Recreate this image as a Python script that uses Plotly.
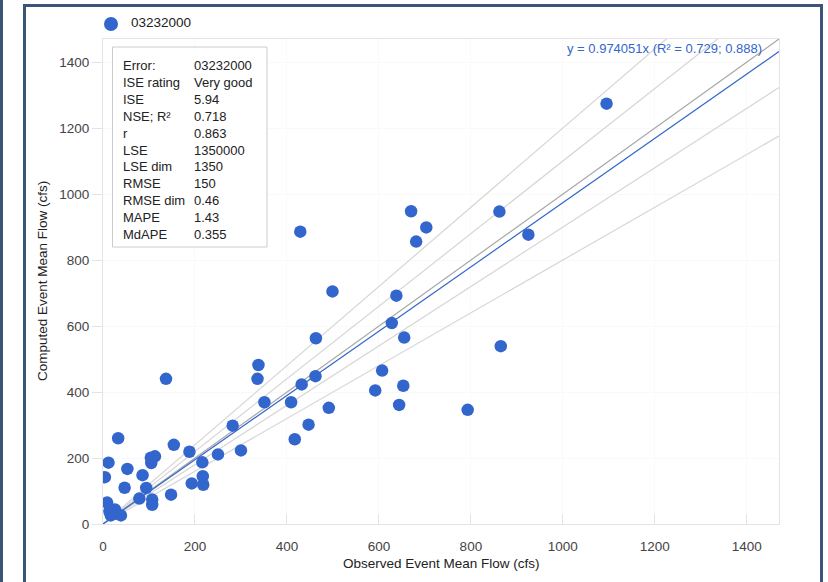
import plotly.graph_objects as go

# ---- data ----
series_name = "03232000"
observed = [1095, 862, 925, 670, 703, 681, 429, 499, 638, 628, 655, 463, 338, 336, 137,
            432, 462, 607, 592, 653, 644, 351, 409, 491, 447, 417, 793, 865, 282, 33,
            154, 188, 250, 300, 12, 104, 113, 105, 216, 53, 86, 4, 217, 218, 193,
            47, 94, 148, 79, 107, 107, 9, 14, 26, 30, 39, 17]
computed = [1274, 947, 877, 948, 899, 856, 886, 705, 692, 609, 565, 563, 482, 440, 440,
            423, 448, 465, 405, 419, 361, 369, 369, 352, 301, 257, 346, 539, 298, 260,
            240, 219, 211, 223, 186, 201, 205, 185, 187, 167, 148, 142, 145, 119, 123,
            110, 109, 89, 77, 74, 58, 65, 38, 44, 31, 26, 26]
trend_slope = 0.974051
trend_label = "y = 0.974051x (R² = 0.729; 0.888)"
guide_slopes = [0.8, 0.9, 1.1, 1.2]
identity_slope = 1.0
axis_max = 1470
tick_vals = [0, 200, 400, 600, 800, 1000, 1200, 1400]

stat_labels = ["Error:", "ISE rating", "ISE", "NSE; R²", "r", "LSE", "LSE dim",
               "RMSE", "RMSE dim", "MAPE", "MdAPE"]
stat_values = ["03232000", "Very good", "5.94", "0.718", "0.863", "1350000", "1350",
               "150", "0.46", "1.43", "0.355"]

# ---- layout geometry (pixels) ----
W, H = 828, 582
L, R, T, B = 103, 49, 39, 58
PW, PH = W - L - R, H - T - B


def px(xp):
    return (xp - L) / PW


def py(yp):
    return (H - B - yp) / PH


FONT = "Arial, 'Liberation Sans', sans-serif"
BLUE = "#3366CC"

fig = go.Figure()

line_x = [0, axis_max]
for s in guide_slopes:
    fig.add_trace(go.Scatter(x=line_x, y=[v * s for v in line_x], mode="lines",
                             line=dict(color="#d6d6d6", width=1.2),
                             hoverinfo="skip", showlegend=False))
fig.add_trace(go.Scatter(x=line_x, y=[v * identity_slope for v in line_x], mode="lines",
                         line=dict(color="#a8a8a8", width=1.2),
                         hoverinfo="skip", showlegend=False))
fig.add_trace(go.Scatter(x=line_x, y=[v * trend_slope for v in line_x], mode="lines",
                         line=dict(color=BLUE, width=1.2),
                         hoverinfo="skip", showlegend=False))
fig.add_trace(go.Scatter(x=observed, y=computed, mode="markers", name=series_name,
                         marker=dict(color=BLUE, size=12.5, line=dict(width=0)),
                         showlegend=False))

axis_common = dict(range=[0, axis_max], tickvals=tick_vals, showgrid=True,
                   gridcolor="#f9f9f9", zeroline=False, showline=True,
                   linecolor="#e4e4e4", linewidth=1, mirror=True,
                   tickfont=dict(family=FONT, size=13.5, color="#444444"),
                   fixedrange=True)

fig.update_layout(
    width=W, height=H,
    margin=dict(l=L, r=R, t=T, b=B, pad=0),
    paper_bgcolor="white", plot_bgcolor="white",
    font=dict(family=FONT, color="#222222"),
    showlegend=False,
    xaxis=dict(**axis_common, ticks="inside", ticklen=10, tickcolor="#e4e4e4",
               ticklabelstandoff=10),
    yaxis=dict(**axis_common, ticks="outside", ticklen=10, tickcolor="#e4e4e4"),
)

shapes = []
# outer frame lines
frame = "#3b5579"
shapes.append(dict(type="line", xref="paper", yref="paper", x0=px(1.5), x1=px(1.5),
                   y0=py(0), y1=py(H), line=dict(color=frame, width=3)))
shapes.append(dict(type="line", xref="paper", yref="paper", x0=px(24.5), x1=px(24.5),
                   y0=py(5), y1=py(H), line=dict(color=frame, width=3)))
shapes.append(dict(type="line", xref="paper", yref="paper", x0=px(23), x1=px(823),
                   y0=py(5.5), y1=py(5.5), line=dict(color=frame, width=3)))
shapes.append(dict(type="line", xref="paper", yref="paper", x0=px(821.5), x1=px(821.5),
                   y0=py(5), y1=py(H), line=dict(color=frame, width=3)))
# stats box
shapes.append(dict(type="rect", xref="paper", yref="paper", x0=px(112.5), x1=px(267),
                   y0=py(247), y1=py(47), line=dict(color="#cccccc", width=1),
                   fillcolor="white", layer="above"))
# legend marker
r = 7
shapes.append(dict(type="circle", xref="paper", yref="paper",
                   x0=px(111 - r), x1=px(111 + r), y0=py(24 + r), y1=py(24 - r),
                   fillcolor=BLUE, line=dict(width=0)))
fig.update_layout(shapes=shapes)

ann = []
ann.append(dict(xref="paper", yref="paper", x=px(129), y=py(23), xanchor="left",
                yanchor="middle", text=series_name, showarrow=False,
                font=dict(family=FONT, size=13.5, color="#222222")))
ann.append(dict(xref="paper", yref="paper", x=px(121), y=py(56), xanchor="left",
                yanchor="top", align="left", text="<br>".join(stat_labels),
                showarrow=False, font=dict(family=FONT, size=13, color="#222222")))
ann.append(dict(xref="paper", yref="paper", x=px(192), y=py(56), xanchor="left",
                yanchor="top", align="left", text="<br>".join(stat_values),
                showarrow=False, font=dict(family=FONT, size=13, color="#222222")))
ann.append(dict(xref="paper", yref="paper", x=px(764), y=py(48), xanchor="right",
                yanchor="middle", text=trend_label, showarrow=False,
                font=dict(family=FONT, size=13, color=BLUE)))
ann.append(dict(xref="paper", yref="paper", x=px(441), y=py(563), xanchor="center",
                yanchor="middle", text="Observed Event Mean Flow (cfs)", showarrow=False,
                font=dict(family=FONT, size=13.5, color="#222222")))
ann.append(dict(xref="paper", yref="paper", x=px(42), y=py(281), xanchor="center",
                yanchor="middle", text="Computed Event Mean Flow (cfs)", showarrow=False,
                textangle=-90, font=dict(family=FONT, size=13.5, color="#222222")))
fig.update_layout(annotations=ann)

fig.write_html("out.html", config={"displayModeBar": False},
               post_script="document.body.style.margin='0px';"
                           "document.body.style.overflow='hidden';")
